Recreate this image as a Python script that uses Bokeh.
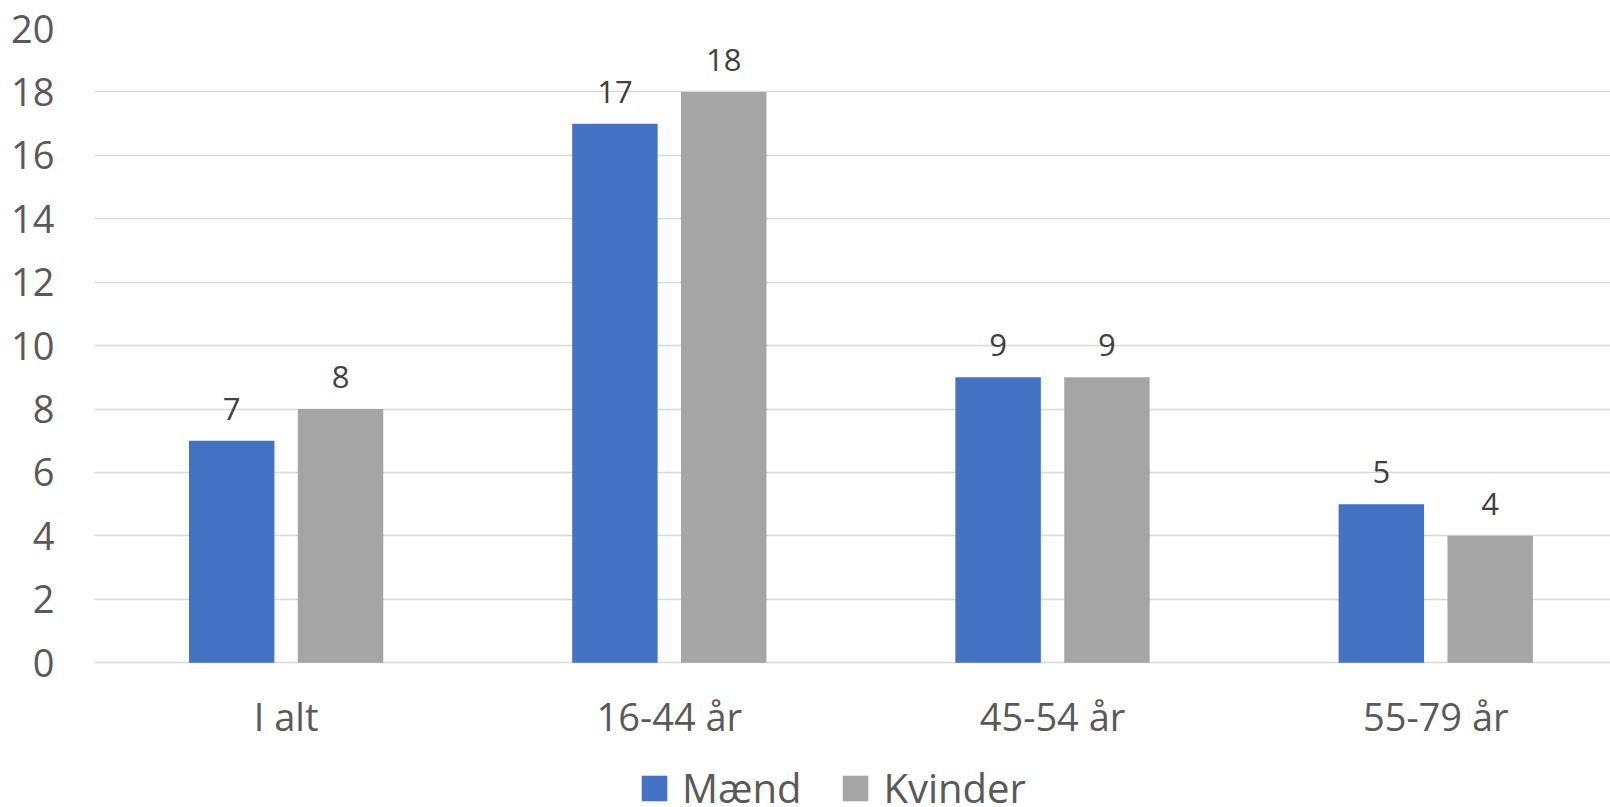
from bokeh.plotting import figure
from bokeh.models import (ColumnDataSource, Range1d, FixedTicker, LabelSet,
                          Legend, LegendItem)
from bokeh.core.properties import value
from bokeh.embed import file_html
from bokeh.resources import INLINE

# Share (%) by age group and sex
categories = ["I alt", "16-44 år", "45-54 år", "55-79 år"]
maend = [7, 17, 9, 5]
kvinder = [8, 18, 9, 4]
y_ticks = [0, 2, 4, 6, 8, 10, 12, 14, 16, 18, 20]

FONT = "Open Sans"
BLUE = "#4472C4"
GREY = "#A5A5A5"
TICK_COLOR = "#595959"
LABEL_COLOR = "#404040"
GRID_COLOR = "#D9D9D9"

idx = list(range(len(categories)))
offset = 0.142
bar_w = 0.223

src_m = ColumnDataSource(dict(x=[i - offset for i in idx], v=maend,
                              t=[str(v) for v in maend]))
src_k = ColumnDataSource(dict(x=[i + offset for i in idx], v=kvinder,
                              t=[str(v) for v in kvinder]))
src_cat = ColumnDataSource(dict(x=idx, y=[0] * len(idx), t=categories))

# The frame runs down to the bottom edge so the legend can sit under the
# category labels; the value scale starts below zero to leave room for them.
p = figure(width=1610, height=807, output_backend="svg", toolbar_location=None,
           x_range=Range1d(-0.5, 3.456), y_range=Range1d(-4.566, 20),
           min_border_left=94, min_border_right=0, min_border_top=28,
           min_border_bottom=0)
p.outline_line_color = None
p.background_fill_color = "white"
p.border_fill_color = "white"

r_m = p.vbar(x="x", top="v", width=bar_w, source=src_m, color=BLUE, line_color=None)
r_k = p.vbar(x="x", top="v", width=bar_w, source=src_k, color=GREY, line_color=None)

# value labels above the bars
for src in (src_m, src_k):
    p.add_layout(LabelSet(x="x", y="v", text="t", source=src, text_align="center",
                          text_baseline="alphabetic", y_offset=21,
                          text_font=value(FONT), text_font_size=value("31px"),
                          text_color=value(LABEL_COLOR)))

# category labels under the zero line
p.add_layout(LabelSet(x="x", y="y", text="t", source=src_cat, text_align="center",
                      text_baseline="alphabetic", y_offset=-68,
                      text_font=value(FONT), text_font_size=value("38px"),
                      text_color=value(TICK_COLOR)))

# y axis
p.yaxis.ticker = FixedTicker(ticks=y_ticks)
p.yaxis.axis_line_color = None
p.yaxis.major_tick_line_color = None
p.yaxis.minor_tick_line_color = None
p.yaxis.major_tick_in = 0
p.yaxis.major_tick_out = 0
p.yaxis.major_label_standoff = 40
p.yaxis.major_label_text_font = FONT
p.yaxis.major_label_text_font_size = "38px"
p.yaxis.major_label_text_color = TICK_COLOR

p.xaxis.visible = False
p.xgrid.grid_line_color = None
p.ygrid.grid_line_color = GRID_COLOR
p.ygrid.grid_line_width = 1.5

legend = Legend(items=[LegendItem(label="Mænd", renderers=[r_m]),
                       LegendItem(label="Kvinder", renderers=[r_k])],
                orientation="horizontal", location=(544, -8),
                glyph_width=32, glyph_height=32, label_height=32,
                label_standoff=12, spacing=38,
                padding=0, margin=0, border_line_color=None,
                background_fill_alpha=0,
                label_text_font=FONT, label_text_font_size="40px",
                label_text_color=TICK_COLOR)
p.add_layout(legend, "center")

open("out.html", "w").write(file_html(p, INLINE))
